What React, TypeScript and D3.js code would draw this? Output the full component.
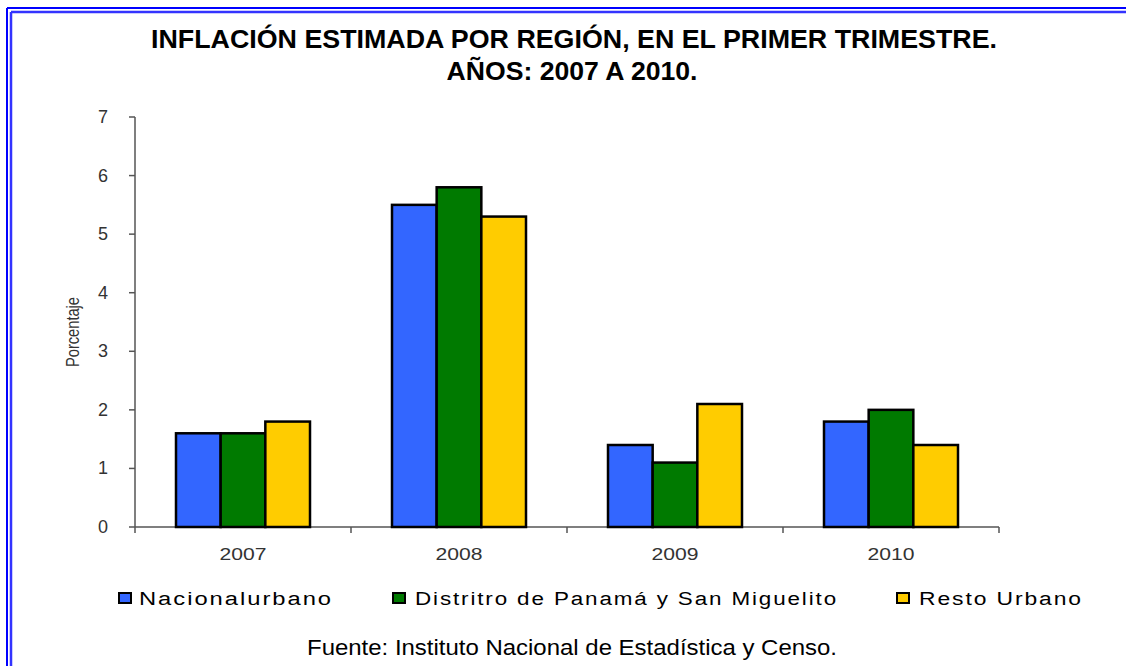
import React from "react";
import * as d3 from "d3";

const years = ["2007", "2008", "2009", "2010"];
const seriesNames = ["Nacionalurbano", "Distritro de Panamá y San Miguelito", "Resto Urbano"];
const nacionalUrbano = [1.6, 5.5, 1.4, 1.8];
const distritoPanama = [1.6, 5.8, 1.1, 2.0];
const restoUrbano = [1.8, 5.3, 2.1, 1.4];
const seriesColors = ["#3366FF", "#007A00", "#FFCC00"];
const yTicks = [0, 1, 2, 3, 4, 5, 6, 7];

const W = 1126, H = 666;
const left = 135, right = 999, top = 117, bottom = 527;

export default function App() {
  const values = [nacionalUrbano, distritoPanama, restoUrbano];
  const x = d3.scaleBand<string>().domain(years).range([left, right]).paddingInner(0).paddingOuter(0);
  const y = d3.scaleLinear().domain([0, 7]).range([bottom, top]);
  const inner = d3.scaleBand<number>().domain([0, 1, 2]).range([0, 134]);
  const groupOffset = (x.bandwidth() - 134) / 2;
  const font = "Arial, 'Liberation Sans', sans-serif";
  const legendItems = [
    { sq: 119, tx: 139, tl: 194 },
    { sq: 393, tx: 415, tl: 423 },
    { sq: 897, tx: 919, tl: 164 },
  ];
  const xLabelLen = 47;
  return (
    <svg width={W} height={H} style={{ position: "fixed", left: 0, top: 0, background: "#fff" }}>
      <rect x={0} y={0} width={W} height={H} fill="#fff" />
      {/* double border */}
      <line x1={7} y1={8} x2={W} y2={8} stroke="#0000FF" strokeWidth={2} />
      <line x1={7} y1={8} x2={7} y2={H} stroke="#0000FF" strokeWidth={2} />
      <line x1={11} y1={12} x2={W} y2={12} stroke="#3333FF" strokeWidth={2.5} />
      <line x1={11} y1={12} x2={11} y2={H} stroke="#3333FF" strokeWidth={2.5} />

      <text x={574} y={48} textAnchor="middle" fontFamily={font} fontWeight="bold" fontSize={25} textLength={846} lengthAdjust="spacingAndGlyphs">
        INFLACIÓN ESTIMADA POR REGIÓN, EN EL PRIMER TRIMESTRE.
      </text>
      <text x={572} y={80} textAnchor="middle" fontFamily={font} fontWeight="bold" fontSize={25} textLength={251} lengthAdjust="spacingAndGlyphs">
        AÑOS: 2007 A 2010.
      </text>

      {/* y axis */}
      <line x1={left} y1={top} x2={left} y2={bottom + 6} stroke="#555" strokeWidth={1.5} />
      {yTicks.map((t) => (
        <g key={t}>
          <line x1={left - 6} x2={left} y1={y(t)} y2={y(t)} stroke="#555" strokeWidth={1.5} />
          <text x={108} y={y(t) + 6} textAnchor="end" fontFamily={font} fontSize={18} fill="#333">
            {t}
          </text>
        </g>
      ))}
      <text transform={`translate(79,332) rotate(-90)`} textAnchor="middle" fontFamily={font} fontSize={18} fill="#333" textLength={70} lengthAdjust="spacingAndGlyphs">
        Porcentaje
      </text>

      {/* x axis */}
      <line x1={left} y1={bottom} x2={right} y2={bottom} stroke="#555" strokeWidth={1.5} />
      {years.map((yr) => (
        <g key={yr}>
          <line x1={(x(yr) as number) + x.bandwidth()} x2={(x(yr) as number) + x.bandwidth()} y1={bottom} y2={bottom + 6} stroke="#555" strokeWidth={1.5} />
          <text x={(x(yr) as number) + x.bandwidth() / 2} y={560} textAnchor="middle" fontFamily={font} fontSize={17} fill="#333" textLength={xLabelLen} lengthAdjust="spacingAndGlyphs">
            {yr}
          </text>
        </g>
      ))}

      {/* bars */}
      {values.map((vals, si) =>
        vals.map((v, i) => {
          const bx = (x(years[i]) as number) + groupOffset + (inner(si) as number);
          return (
            <rect key={`${si}-${i}`} x={bx} y={y(v)} width={inner.bandwidth()} height={bottom - y(v)} fill={seriesColors[si]} stroke="#000" strokeWidth={2.5} />
          );
        })
      )}

      {/* legend */}
      {seriesNames.map((n, i) => (
        <g key={n}>
          <rect x={legendItems[i].sq} y={593} width={12} height={10} fill={seriesColors[i]} stroke="#000" strokeWidth={2} />
          <text x={legendItems[i].tx} y={605} fontFamily={font} fontSize={18} fill="#000" letterSpacing={1.5} textLength={legendItems[i].tl} lengthAdjust="spacingAndGlyphs">
            {n}
          </text>
        </g>
      ))}

      <text x={572} y={655} textAnchor="middle" fontFamily={font} fontSize={22} fill="#000" textLength={530} lengthAdjust="spacingAndGlyphs">
        Fuente: Instituto Nacional de Estadística y Censo.
      </text>
    </svg>
  );
}
